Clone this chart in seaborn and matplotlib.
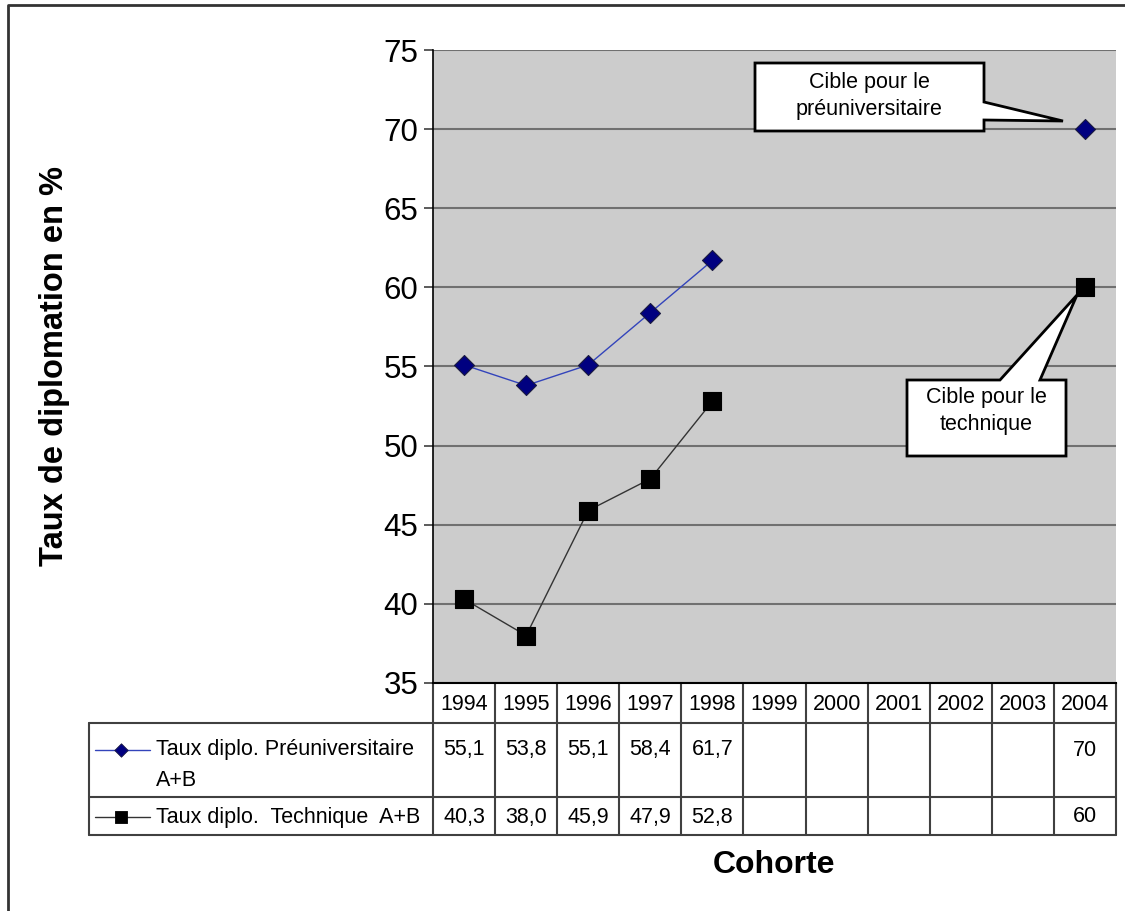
import numpy as np
import pandas as pd
import matplotlib
matplotlib.use("Agg")
import matplotlib.pyplot as plt
import matplotlib.transforms as mtransforms
from matplotlib.patches import Polygon
from matplotlib.lines import Line2D
import seaborn as sns

# Data
years = [1994, 1995, 1996, 1997, 1998, 1999, 2000, 2001, 2002, 2003, 2004]
pre_values = [55.1, 53.8, 55.1, 58.4, 61.7, np.nan, np.nan, np.nan, np.nan, np.nan, 70]
tech_values = [40.3, 38.0, 45.9, 47.9, 52.8, np.nan, np.nan, np.nan, np.nan, np.nan, 60]
pre_name = "Taux diplo. Préuniversitaire\nA+B"
tech_name = "Taux diplo.  Technique  A+B"
y_ticks = [35, 40, 45, 50, 55, 60, 65, 70, 75]
target_year = 2004

W, H = 1125, 911

sns.set_theme(style="white")
plt.rcParams['font.family'] = ['Liberation Sans', 'DejaVu Sans']
plt.rcParams['text.color'] = 'black'
plt.rcParams['ytick.labelcolor'] = 'black'


def fx(x):
    return x / W


def fy(y):
    return 1 - y / H


fig = plt.figure(figsize=(W / 100, H / 100), dpi=100)
ax = fig.add_axes([fx(433), fy(683), (1116 - 433) / W, (683 - 50) / H])
ax.set_facecolor('#CCCCCC')

df = pd.DataFrame({
    'pos': range(len(years)),
    'pre': pre_values,
    'tech': tech_values,
})

series = [
    ('pre', '#3344BB', '#000080', '#1a1a40', 'D', 104),
    ('tech', '#333333', '#000000', '#000000', 's', 169),
]

for col, line_color, face, edge, marker, size in series:
    d = df[['pos', col]].copy()
    d['seg'] = d[col].isna().cumsum()
    d = d.dropna()
    sns.lineplot(data=d, x='pos', y=col, units='seg', estimator=None,
                 color=line_color, lw=1, ax=ax, legend=False)
    sns.scatterplot(data=d, x='pos', y=col, marker=marker, s=size,
                    color=face, edgecolor=edge, linewidth=0.8,
                    ax=ax, zorder=5, legend=False)

ax.set_xlim(-0.5, len(years) - 0.5)
ax.set_ylim(35, 75)
ax.set_yticks(y_ticks)
ax.set_yticklabels([str(t) for t in y_ticks], fontsize=22.5)
ax.set_xticks([])
ax.set_xlabel('')
ax.set_ylabel('')
ax.yaxis.grid(True, color='#707070', lw=1.5)
ax.set_axisbelow(True)
ax.tick_params(axis='y', left=True, length=6.5, width=1.2, color='#404040',
               pad=4, direction='out', labelcolor='black')
for s in ['top', 'right']:
    ax.spines[s].set_visible(False)
ax.spines['left'].set_color('#000000')
ax.spines['left'].set_linewidth(1.2)
ax.spines['bottom'].set_color('#000000')
ax.spines['bottom'].set_linewidth(1.5)

# Data table below the plot
trans = mtransforms.blended_transform_factory(ax.transData, ax.transAxes)


def ay(py):
    return (683 - py) / 633


def ax_x(px):
    return (px - 433) / 683


grid_kw = dict(color='#404040', lw=1.5, clip_on=False)
for i in range(len(years) + 1):
    ax.plot([i - 0.5, i - 0.5], [0, ay(835)], transform=trans, **grid_kw)
for py in [723, 797, 835]:
    ax.plot([ax_x(89), 1], [ay(py), ay(py)], transform=ax.transAxes, **grid_kw)
ax.plot([ax_x(89), ax_x(89)], [ay(723), ay(835)], transform=ax.transAxes, **grid_kw)

fs = 15.5
for i, yr in enumerate(years):
    ax.text(i, ay(704), str(yr), transform=trans, ha='center', va='center', fontsize=fs)
    for vals, py in [(pre_values, 750), (tech_values, 817)]:
        v = vals[i]
        if not np.isnan(v):
            lab = f"{v:.0f}" if yr == target_year else f"{v:.1f}".replace('.', ',')
            ax.text(i, ay(py), lab, transform=trans, ha='center', va='center', fontsize=fs)

# legend keys in table
for (col, line_color, face, edge, marker, size), py in zip(series, [750, 817]):
    ax.plot([ax_x(95), ax_x(150)], [ay(py), ay(py)], transform=ax.transAxes,
            color=line_color, lw=1, clip_on=False)
    ax.scatter([ax_x(121)], [ay(py)], transform=ax.transAxes, marker=marker,
               s=size * 0.45, color=face, edgecolor=edge, linewidth=0.6,
               clip_on=False, zorder=6)

for k, line in enumerate(pre_name.split('\n')):
    ax.text(ax_x(156), ay(750 + 30 * k), line, transform=ax.transAxes,
            ha='left', va='center', fontsize=fs)
ax.text(ax_x(156), ay(817), tech_name, transform=ax.transAxes,
        ha='left', va='center', fontsize=fs)

# Callouts
callouts = [
    ("Cible pour le\npréuniversitaire", (869, 96),
     [(755, 63), (984, 63), (984, 102), (1063, 121), (984, 120), (984, 131), (755, 131)]),
    ("Cible pour le\ntechnique", (986, 411),
     [(907, 380), (1000, 380), (1077, 295), (1040, 380), (1066, 380), (1066, 456), (907, 456)]),
]
for text, (tx, ty), pts in callouts:
    poly = Polygon([(fx(x), fy(y)) for x, y in pts], closed=True,
                   facecolor='white', edgecolor='black', lw=2,
                   transform=fig.transFigure, zorder=10)
    fig.add_artist(poly)
    fig.text(fx(tx), fy(ty), text, ha='center', va='center', fontsize=15.5,
             multialignment='center', linespacing=1.4, zorder=11)

# Axis titles
fig.text(fx(55), fy(366), 'Taux de diplomation en %', rotation=90,
         ha='center', va='center', fontsize=23.5, fontweight='bold')
fig.text(fx(774), fy(865), 'Cohorte', ha='center', va='center',
         fontsize=23, fontweight='bold')

# Outer frame
fig.add_artist(Line2D([fx(8), fx(8), fx(1125)], [fy(911), fy(5), fy(5)],
                      transform=fig.transFigure, color='#333333', lw=2))

fig.savefig('out.png', dpi=100)
